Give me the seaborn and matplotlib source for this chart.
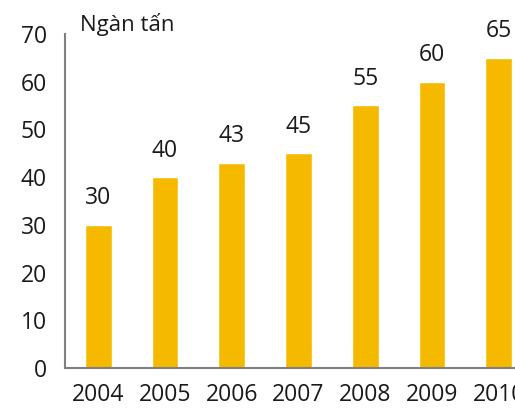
import numpy as np
import pandas as pd
import seaborn as sns
import matplotlib.pyplot as plt
from matplotlib.ticker import FixedLocator

years = ["2004", "2005", "2006", "2007", "2008", "2009", "2010"]
values = [30, 40, 43, 45, 55, 60, 65]
unit_label = "Ngàn tấn"

sns.set_style("white")
plt.rcParams['font.family'] = ['Open Sans', 'DejaVu Sans']

df = pd.DataFrame({'year': years, 'value': values})

fig = plt.figure(figsize=(5.15, 4.08), dpi=100)
ax = fig.add_axes([0.126, 0.098, 0.907, 0.819])

sns.barplot(data=df, x='year', y='value', color='#F5BA00', width=0.4,
            saturation=1, ax=ax)

for i, v in enumerate(values):
  ax.text(i, v + 3.0, str(v), ha='center', va='bottom', fontsize=16.5, color='#1a1a1a')

ax.set_ylim(0, 70)
ax.set_xlim(-0.5, 6.5)
ax.set_yticks(range(0, 71, 10))
ax.set_xlabel('')
ax.set_ylabel('')

# ticks between categories
ax.xaxis.set_minor_locator(FixedLocator(np.arange(-0.5, 7, 1)))
ax.tick_params(axis='x', which='major', length=0, pad=11, labelsize=16.5, labelcolor='#1a1a1a')
ax.tick_params(axis='x', which='minor', length=6, width=1.2, color='#808080', direction='out')
ax.tick_params(axis='y', length=6, width=1.2, color='#808080', direction='out',
               pad=7, labelsize=16.5, labelcolor='#1a1a1a')

for s in ['top', 'right']:
  ax.spines[s].set_visible(False)
for s in ['left', 'bottom']:
  ax.spines[s].set_color('#808080')
  ax.spines[s].set_linewidth(1.5)

fig.text(80 / 515, 1 - 25 / 408, unit_label, ha='left', va='center', fontsize=16, color='#1a1a1a')

plt.savefig("out.png", dpi=100)
